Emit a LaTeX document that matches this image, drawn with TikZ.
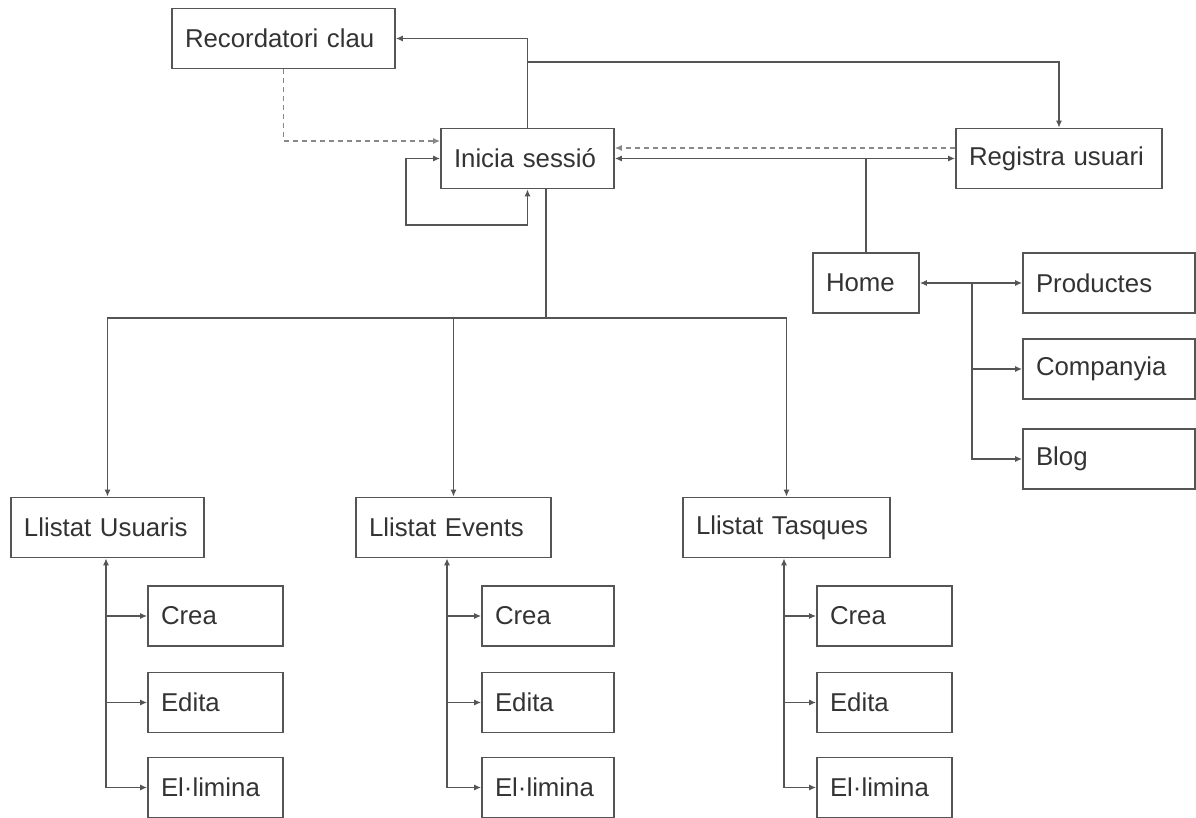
\documentclass[tikz,border=0pt]{standalone}
\usepackage{fontspec}
\setmainfont{Liberation Sans}
\usetikzlibrary{arrows.meta}

\definecolor{linegray}{HTML}{555555}
\definecolor{textgray}{HTML}{333333}

\tikzset{
	pagebox/.style={draw=linegray, line width=0.8pt, rectangle, minimum height=30pt,
		inner xsep=6.5pt, inner ysep=0pt, align=left, text width=#1,
		text=textgray, font=\fontsize{12.9}{15}\selectfont},
	link/.style={draw=linegray, line width=0.8pt},
	backlink/.style={draw=linegray!70, line width=0.8pt, dash pattern=on 2.5pt off 2pt},
	>={Latex[length=3.5pt,width=3pt]}
}

\begin{document}
\begin{tikzpicture}[x=0.5pt, y=-0.5pt]
				\useasboundingbox (0,0) rectangle (1196,818);

				% Accés
				\node[pagebox=98.5pt] (rec) at (283.5,38.5) {Recordatori clau};
				\node[pagebox=73.5pt] (ini) at (527.5,158.5) {Inicia sessió};
				\node[pagebox=90pt] (reg) at (1059,158.5) {Registra usuari};

				% Web pública
				\node[pagebox=40pt] (home) at (866,283) {Home};
				\node[pagebox=73pt] (prod) at (1109,283) {Productes};
				\node[pagebox=73pt] (comp) at (1109,369) {Companyia};
				\node[pagebox=73pt] (blog) at (1109,459) {Blog};

				% Llistats
				\node[pagebox=83.5pt] (usu) at (107.5,527.5) {Llistat Usuaris};
				\node[pagebox=84.5pt] (evt) at (453.5,527.5) {Llistat Events};
				\node[pagebox=90.5pt] (tas) at (786.5,527.5) {Llistat Tasques};

				% Accions
				\node[pagebox=54.5pt] (crea1) at (215.5,616) {Crea};
				\node[pagebox=54.5pt] (edita1) at (215.5,702.5) {Edita};
				\node[pagebox=54.5pt] (elim1) at (215.5,787.5) {El·limina};
				\node[pagebox=53pt] (crea2) at (548,616) {Crea};
				\node[pagebox=53pt] (edita2) at (548,702.5) {Edita};
				\node[pagebox=53pt] (elim2) at (548,787.5) {El·limina};
				\node[pagebox=54.5pt] (crea3) at (884.5,616) {Crea};
				\node[pagebox=54.5pt] (edita3) at (884.5,702.5) {Edita};
				\node[pagebox=54.5pt] (elim3) at (884.5,787.5) {El·limina};

				\coordinate (regsplit) at (527.5,62);
				\coordinate (loopcorner) at (406,225);
				\coordinate (hub) at (546,318);
				\coordinate (homesplit) at (972,283);

				% Inicia sessió
				\draw[link,->] (ini.north) |- (rec.east);
				\draw[link,->] (regsplit) -| (reg.north);
				\draw[backlink,->] (rec.south) |- ([yshift=8.75pt]ini.west);
				\draw[link,<->] (ini.west) -| (loopcorner) -| (ini.south);
				\draw[backlink,->] ([yshift=5.25pt]reg.west) -- ([yshift=5.25pt]ini.east);
				\draw[link,<->] (ini.east) -- (reg.west);
				\draw[link] (home.north) -- (home.north |- ini.east);

				% Home
				\draw[link,<->] (home.east) -- (prod.west);
				\draw[link,->] (homesplit) |- (comp.west);
				\draw[link,->] (homesplit) |- (blog.west);

				% Llistats
				\draw[link] ([xshift=9.25pt]ini.south) -- (hub);
				\draw[link,->] (hub) -| (usu.north);
				\draw[link,->] (hub -| evt.north) -- (evt.north);
				\draw[link,->] (hub) -| (tas.north);

				% Accions
				\foreach \lst/\col/\sx in {usu/1/106, evt/2/447, tas/3/784} {
					\coordinate (\lst-foot) at (\sx,787.5);
					\draw[link,->] (\lst-foot) -- (\lst.south -| \lst-foot);
					\foreach \act in {crea,edita,elim}
						\draw[link,->] (\act\col.west -| \lst-foot) -- (\act\col.west);
				}
			\end{tikzpicture}
\end{document}
